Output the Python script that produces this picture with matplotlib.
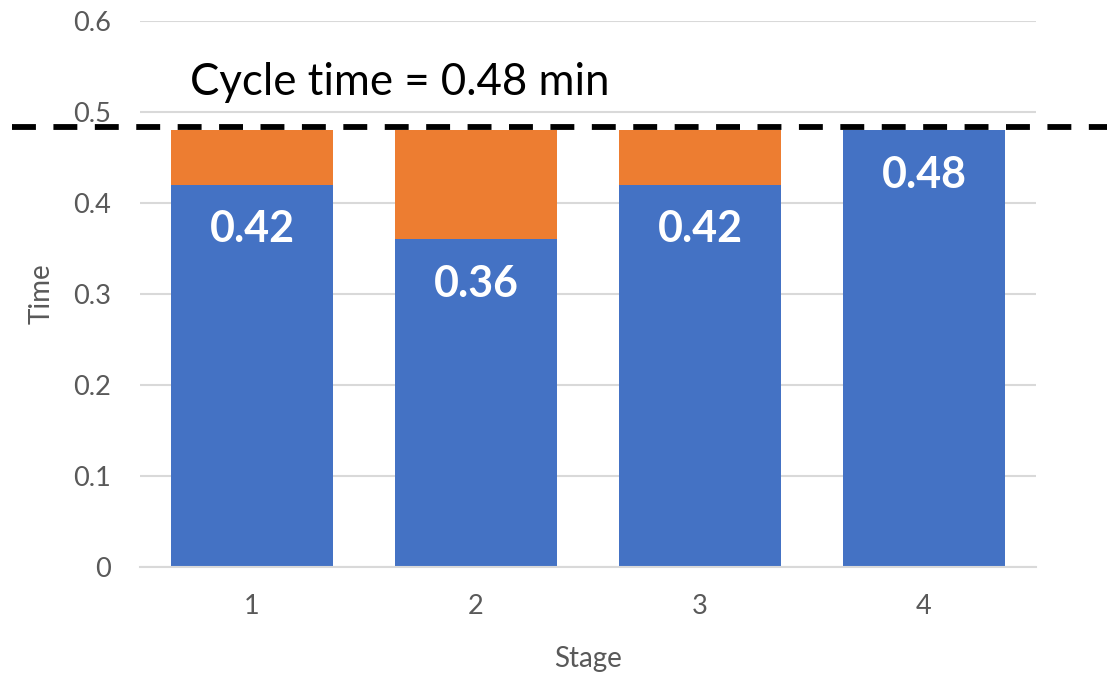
import matplotlib.pyplot as plt

stages = ["1", "2", "3", "4"]
work_time = [0.42, 0.36, 0.42, 0.48]
idle_time = [0.06, 0.12, 0.06, 0.0]
cycle_time = 0.48
cycle_line = 0.484

blue = "#4472C4"
orange = "#ED7D31"
grey = "#595959"

plt.rcParams["font.family"] = ["Lato", "DejaVu Sans"]

fig = plt.figure(figsize=(11.07, 6.73), dpi=100)
ax = fig.add_axes([140 / 1107, 1 - 566.7 / 673, 896 / 1107, 545.4 / 673])

x = range(len(stages))
ax.bar(x, work_time, width=0.72, color=blue, zorder=2)
ax.bar(x, idle_time, width=0.72, bottom=work_time, color=orange, zorder=2)

for i, v in enumerate(work_time):
    ax.text(i, v - 0.049, f"{v:.2f}", ha="center", va="center",
            color="white", fontsize=31, fontweight="bold", zorder=3)

ax.axhline(cycle_line, xmin=-0.143, xmax=1.1, color="black", lw=4.2,
           linestyle=(0, (4.1, 3.0)), clip_on=False, zorder=4)
ax.text(-0.277, 0.533, f"Cycle time = {cycle_time} min", ha="left", va="center",
        fontsize=31.5, color="black")

ax.set_xlim(-0.5, 3.5)
ax.set_ylim(0, 0.6)
ax.set_yticks([0, 0.1, 0.2, 0.3, 0.4, 0.5, 0.6])
ax.set_yticklabels(["0", "0.1", "0.2", "0.3", "0.4", "0.5", "0.6"])
ax.set_xticks(list(x))
ax.set_xticklabels(stages)
ax.tick_params(axis="both", length=0, labelsize=19.5, labelcolor=grey)
ax.tick_params(axis="y", pad=21)
ax.tick_params(axis="x", pad=20)
ax.grid(axis="y", color="#D9D9D9", lw=1.5, zorder=0)
for side in ["top", "right", "left"]:
    ax.spines[side].set_visible(False)
ax.spines["bottom"].set_color("#D9D9D9")
ax.spines["bottom"].set_linewidth(1.5)

ax.set_ylabel("Time", fontsize=20, color=grey)
ax.set_xlabel("Stage", fontsize=20, color=grey)
ax.yaxis.set_label_coords(-0.095, 0.5)
ax.xaxis.set_label_coords(0.5, -0.145)

fig.savefig("out.png", dpi=100)
